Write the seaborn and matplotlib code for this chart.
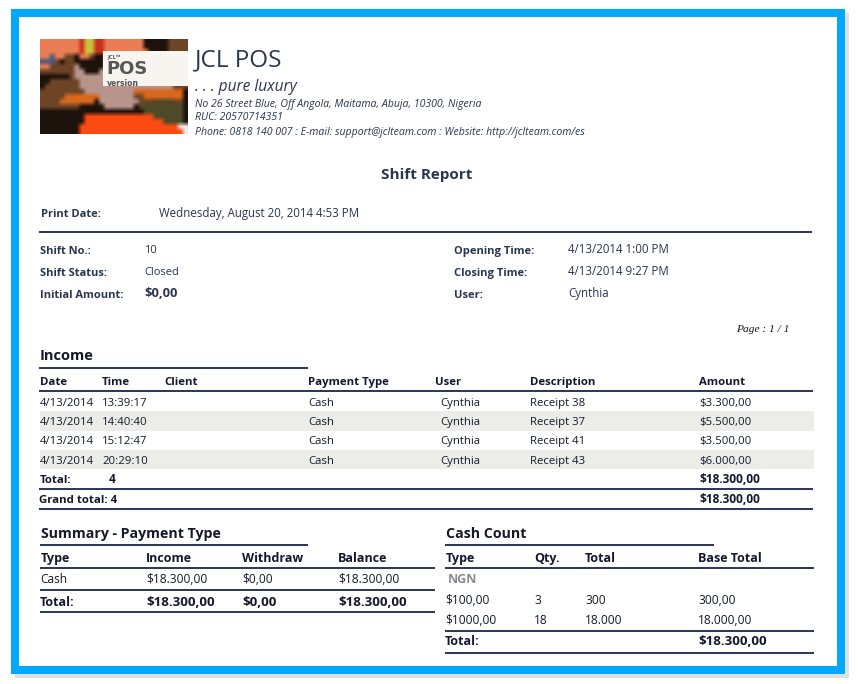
import numpy as np
import seaborn as sns
import matplotlib
matplotlib.use("Agg")
import matplotlib.pyplot as plt
from matplotlib.colors import ListedColormap, to_rgb
from matplotlib.patches import Rectangle

# Report data
company = "JCL POS"
slogan = ". . . pure luxury"
address_lines = ["No 26 Street Blue, Off Angola, Maitama, Abuja, 10300, Nigeria",
                 "RUC: 20570714351",
                 "Phone: 0818 140 007 : E-mail: support@jclteam.com : Website: http://jclteam.com/es"]
print_date = "Wednesday, August 20, 2014 4:53 PM"
left_labels = ["Shift No.:", "Shift Status:", "Initial Amount:"]
left_values = ["10", "Closed", "$0,00"]
right_labels = ["Opening Time:", "Closing Time:", "User:"]
right_values = ["4/13/2014 1:00 PM", "4/13/2014 9:27 PM", "Cynthia"]

income_cols = ["Date", "Time", "Client", "Payment Type", "User", "Description", "Amount"]
income_dates = ["4/13/2014"] * 4
income_times = ["13:39:17", "14:40:40", "15:12:47", "20:29:10"]
income_payment = ["Cash"] * 4
income_users = ["Cynthia"] * 4
income_desc = ["Receipt 38", "Receipt 37", "Receipt 41", "Receipt 43"]
income_amounts = ["$3.300,00", "$5.500,00", "$3.500,00", "$6.000,00"]
income_total = "$18.300,00"

summary_cols = ["Type", "Income", "Withdraw", "Balance"]
summary_row = ["Cash", "$18.300,00", "$0,00", "$18.300,00"]
summary_total = ["Total:", "$18.300,00", "$0,00", "$18.300,00"]

cash_cols = ["Type", "Qty.", "Total", "Base Total"]
cash_rows = [["$100,00", "3", "300", "300,00"],
             ["$1000,00", "18", "18.000", "18.000,00"]]
cash_total = "$18.300,00"

# Rough colour map of the logo photo
logo_palette = {"o": "#ea7d55", "r": "#fb4a12", "y": "#c9c23a", "R": "#c8301c", "k": "#1e120c",
                "b": "#6d4426", "t": "#b8958c", "g": "#4d4a28", "n": "#d8681c", "w": "#f0e8e8",
                "c": "#4a5a80"}
logo_grid = ["ooooooooRyyRRooooooookkkkkbbbb",
             "ooooooooRyyRRooooooookkkkkbbbb",
             "ooooooooRyyRRoooooooookkkkbbbb",
             "oocoobbkoobkkooooooooooooooobb",
             "cccbkbbkkkkkkooooooooooooooobb",
             "oobbbbbtkkkkktttttttttttttttbb",
             "bbbbbbbttkkkttttttttttttttttbb",
             "kkkkkkbtttttttttttttttttttttbb",
             "kkbbbbbbtttttttttttttttttttbbb",
             "kbbbbbbbtttttttttttttttttttbbb",
             "bbbbbbbbbttttttttttnnnnnnnnnnk",
             "bbbbbnnnnnnntttttttbbnnnnnnnnk",
             "bbbbnnnnnnnkttttttttbbbggggbbk",
             "bbbbbbbbkkkkkttttttkgggggggggk",
             "kkkkkkkkkkkkkkkkkkkkkggggggggk",
             "kkkkkkkkkrrrrrrrrrrrrrrggggggk",
             "kkkkkkkkkrrrrrrrrrrrrrrrrggggk",
             "kkkkkkkkrrrrrrrrrrrrrrrrrrrrww",
             "kkkkkkkkrrrrrrrrrrrrrrrrrrrrrw"]

NAVY = "#2a3550"
LINE = "#2d3a58"
INK = "#14182a"
sns.set_theme(style="white")
plt.rcParams["font.family"] = ["Open Sans", "DejaVu Sans"]
W, H = 858, 684
fig = plt.figure(figsize=(W / 100, H / 100), dpi=100, facecolor="white")


def px_axes(x0, y0, x1, y1, z=0):
    # axes placed using pixel box from the top left corner
    return fig.add_axes([x0 / W, 1 - y1 / H, (x1 - x0) / W, (y1 - y0) / H], zorder=z)


# striped rows of the income table
stripe_ax = px_axes(40, 392, 814, 469, z=0)
sns.heatmap(np.array([[0], [1], [0], [1]]), ax=stripe_ax, cmap=ListedColormap(["#ffffff", "#ecede9"]),
            cbar=False, xticklabels=False, yticklabels=False)

# logo
logo_ax = px_axes(40, 39, 188, 134, z=0)
logo_rgb = np.array([[to_rgb(logo_palette[c]) for c in row] for row in logo_grid])
logo_ax.imshow(logo_rgb, aspect="auto", interpolation="bilinear")
logo_ax.axis("off")

ax = px_axes(0, 0, W, H, z=1)
ax.set_xlim(0, W)
ax.set_ylim(H, 0)
ax.axis("off")
ax.patch.set_alpha(0)


def txt(x, y, s, size=8.6, bold=False, color=INK, **kw):
    ax.text(x, y, s, fontsize=size, fontweight="bold" if bold else "normal", color=color, va="baseline", **kw)


def hline(x0, x1, y, lw=2):
    ax.plot([x0, x1], [y, y], color=LINE, lw=lw * 0.72, solid_capstyle="butt")


# frame and shadow
ax.add_patch(Rectangle((845, 13), 4, 665, color="#e0e0e0", lw=0))
ax.add_patch(Rectangle((15, 674), 834, 4, color="#e0e0e0", lw=0))
ax.add_patch(Rectangle((15, 13), 826, 657, fill=False, ec="#00a8ff", lw=8 * 0.72, joinstyle="miter"))

# label on the logo
ax.add_patch(Rectangle((103, 51), 85, 35, color="#f8f4f0", lw=0))
txt(107, 58, "JCL\u2122", size=4.2, bold=True, color="#555555")
txt(106, 74, "POS", size=13, bold=True, color="#565656", family="DejaVu Sans")
txt(107, 85.5, "version", size=5.5, bold=True, color="#555555", family="DejaVu Sans")

# header
txt(195, 66, company, size=17.5, color=NAVY)
txt(195, 91, slogan, size=11.2, color=NAVY, style="italic")
for y, line in zip([107, 120.5, 135.5], address_lines):
    txt(195, y, line, size=7.55, color=NAVY, style="italic")
txt(381, 179, "Shift Report", size=11, bold=True, color=NAVY)
txt(41, 217, "Print Date:", size=8, bold=True, color=NAVY)
txt(159, 217, print_date, size=8.3, color=NAVY)
hline(39, 812, 231.5)

for y, a, b, c, d in zip([254, 276, 298], left_labels, left_values, right_labels, right_values):
    txt(40, y, a, size=8, bold=True, color=NAVY)
    is_money = b == "$0,00"
    txt(144, y - 1, b, size=9.3 if is_money else 8, bold=is_money, color=NAVY)
    txt(454, y, c, size=8, bold=True, color=NAVY)
    txt(568, y - 1, d, size=8.3, color=NAVY)
txt(736, 332, "Page : 1 / 1", size=8.2, color="#111111", style="italic", family="Liberation Serif")

# income table
txt(40, 360, "Income", size=10.5, bold=True)
hline(39, 308, 368)
for x, col in zip([40, 102, 164, 308, 435, 530, 699], income_cols):
    txt(x, 385, col, size=8.2, bold=True)
hline(39, 813, 391)
for i, y in enumerate([406, 425, 444, 464]):
    txt(40, y, income_dates[i], size=8.2)
    txt(102, y, income_times[i], size=8.2)
    txt(308, y, income_payment[i], size=8.2)
    txt(440.5, y, income_users[i], size=8.2)
    txt(530, y, income_desc[i], size=8.2)
    txt(699, y, income_amounts[i], size=8.2)
txt(40, 483, "Total:", size=8.2, bold=True)
txt(109, 483, str(len(income_times)), bold=True)
txt(699, 483, income_total, bold=True)
hline(39, 813, 489)
txt(39, 503, "Grand total: " + str(len(income_times)), size=8.2, bold=True)
txt(699, 503, income_total, bold=True)
hline(39, 813, 509)

# summary table
summary_x = [41, 146, 242, 338]
txt(41, 538, "Summary - Payment Type", size=10.2, bold=True)
hline(40, 308, 545)
for x, col in zip(summary_x, summary_cols):
    txt(x, 562, col, size=9, bold=True)
hline(40, 435, 568)
for x, val in zip([40, 146, 242, 338], summary_row):
    txt(x, 583, val)
hline(40, 435, 590)
for x, val in zip([40, 146, 242, 338], summary_total):
    txt(x, 606, val, size=9.5 if val != "Total:" else 9, bold=True)
hline(40, 435, 612)

# cash count table
cash_x = [445, 534, 585, 698]
txt(446, 538, "Cash Count", size=10.2, bold=True)
hline(445, 714, 545)
for x, col in zip([446, 534, 585, 698], cash_cols):
    txt(x, 562, col, size=9, bold=True)
hline(445, 814, 568)
txt(448, 583, "NGN", size=9, bold=True, color="#8a8a90")
for y, row in zip([604, 624], cash_rows):
    for x, val in zip(cash_x, row):
        txt(x, y, val)
hline(445, 814, 631)
txt(445, 645, "Total:", size=9, bold=True)
txt(698, 645, cash_total, size=9.5, bold=True)
hline(445, 814, 653)

fig.savefig("out.png", dpi=100)
